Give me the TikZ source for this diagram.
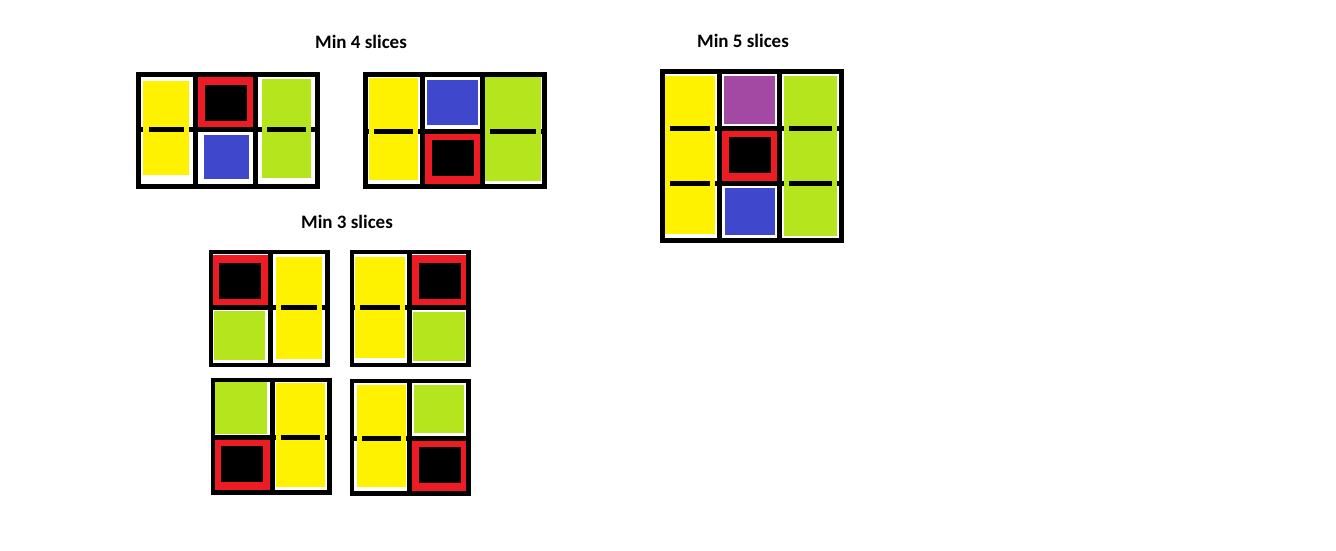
\documentclass[tikz,border=0pt]{standalone}
\usepackage{fontspec}
\setmainfont{Carlito}
\usepackage{tikz}
\definecolor{pyellow}{HTML}{FFF200}
\definecolor{pgreen}{HTML}{B5E61D}
\definecolor{pblue}{HTML}{3F48CC}
\definecolor{pred}{HTML}{ED1C24}
\definecolor{ppurple}{HTML}{A349A4}
\tikzset{
  frame/.style={draw=black, line width=5pt},
  smallframe/.style={draw=black, line width=4.4pt},
  divider/.style={black, line width=5pt},
  slicebar/.style={black, line width=5pt},
  heading/.style={font=\bfseries\fontsize{19}{22}\selectfont, inner sep=0pt}
}
\begin{document}
\begin{tikzpicture}[x=1pt, y=-1pt]
\fill[white] (0,0) rectangle (1336,550);
\useasboundingbox (0,0) rectangle (1336,550);

\node[heading] (min4) at (361,42) {Min 4 slices};
\node[heading] (min5) at (743,41) {Min 5 slices};
\node[heading] (min3) at (347,222) {Min 3 slices};

% min 4, left
\draw[divider] (195.7,72) -- (195.7,189);
\draw[divider] (255.7,72) -- (255.7,189);
\draw[divider] (136,129.3) -- (320,129.3);
\fill[pyellow] (143.3,80.7) rectangle (189,175);
\fill[pred] (198,76.7) rectangle (253,126.7);
\fill[black] (205,85) rectangle (247,121);
\fill[pblue] (204,135) rectangle (249,178.7);
\fill[pgreen] (262,79) rectangle (311,177.7);
\draw[slicebar] (149,129.3) -- (184,129.3);
\draw[slicebar] (267,129.3) -- (306,129.3);
\draw[frame] (138.5,74.5) rectangle (317.5,186.5);

% min 4, right
\draw[divider] (422.5,72) -- (422.5,189);
\draw[divider] (482.5,72) -- (482.5,189);
\draw[divider] (363,131.3) -- (547,131.3);
\fill[pyellow] (368.7,77.7) rectangle (418,180);
\fill[pblue] (426.7,80) rectangle (478,125);
\fill[pred] (425,134) rectangle (480,184);
\fill[black] (431.7,140) rectangle (474,175.7);
\fill[pgreen] (485,76.7) rectangle (541,181);
\draw[slicebar] (374,131.3) -- (413,131.3);
\draw[slicebar] (490,131.3) -- (536,131.3);
\draw[frame] (365.5,74.5) rectangle (544.5,186.5);

% min 3
\draw[divider] (270.5,250) -- (270.5,367);
\draw[divider] (209,307.5) -- (329.7,307.5);
\fill[pred] (212.7,254.7) rectangle (268,305);
\fill[black] (219,262.7) rectangle (261,299);
\fill[pgreen] (213.7,310.7) rectangle (265,359.7);
\fill[pyellow] (276,257.3) rectangle (322,359);
\draw[slicebar] (281,307.5) -- (317,307.5);
\draw[smallframe] (211.2,252.2) rectangle (327.5,364.8);

\draw[divider] (409.3,250) -- (409.3,367);
\draw[divider] (350,307.5) -- (470.7,307.5);
\fill[pyellow] (355,256.7) rectangle (405,357.7);
\fill[pred] (412,254.7) rectangle (467,305);
\fill[black] (419,262.7) rectangle (461,299);
\fill[pgreen] (413,311.7) rectangle (465,360.7);
\draw[slicebar] (360,307.5) -- (400,307.5);
\draw[smallframe] (352.2,252.2) rectangle (468.5,364.8);

\draw[divider] (272.5,378) -- (272.5,494.7);
\draw[divider] (211,437.5) -- (331.7,437.5);
\fill[pgreen] (215,382) rectangle (267,434);
\fill[pred] (215,440) rectangle (270,490);
\fill[black] (221,446) rectangle (263,482);
\fill[pyellow] (276,383) rectangle (325,487);
\draw[slicebar] (281,437.5) -- (320,437.5);
\draw[smallframe] (213.2,380.2) rectangle (329.5,492.5);

\draw[divider] (409.5,379) -- (409.5,495.7);
\draw[divider] (350,438.5) -- (470.7,438.5);
\fill[pyellow] (357,385) rectangle (406,487);
\fill[pgreen] (414,385) rectangle (464,432.7);
\fill[pred] (412,441) rectangle (467,491);
\fill[black] (419,447) rectangle (461,483);
\draw[slicebar] (362,438.5) -- (401,438.5);
\draw[smallframe] (352.2,381.2) rectangle (468.5,493.5);

% min 5
\draw[divider] (719.5,69) -- (719.5,243);
\draw[divider] (779.5,69) -- (779.5,243);
\draw[divider] (660,128.5) -- (844,128.5);
\draw[divider] (660,183.5) -- (844,183.5);
\fill[pyellow] (665,76) rectangle (715,233.7);
\fill[ppurple] (724,76) rectangle (775,123.7);
\fill[pred] (722,131) rectangle (777,181);
\fill[black] (729,137) rectangle (771,173);
\fill[pblue] (725,188) rectangle (775,234.7);
\fill[pgreen] (784,76) rectangle (837,235.7);
\foreach \y in {128.5,183.5} {
  \draw[slicebar] (670,\y) -- (710,\y);
  \draw[slicebar] (789,\y) -- (832,\y);
}
\draw[frame] (662.5,71.5) rectangle (841.5,240.5);
\end{tikzpicture}
\end{document}
